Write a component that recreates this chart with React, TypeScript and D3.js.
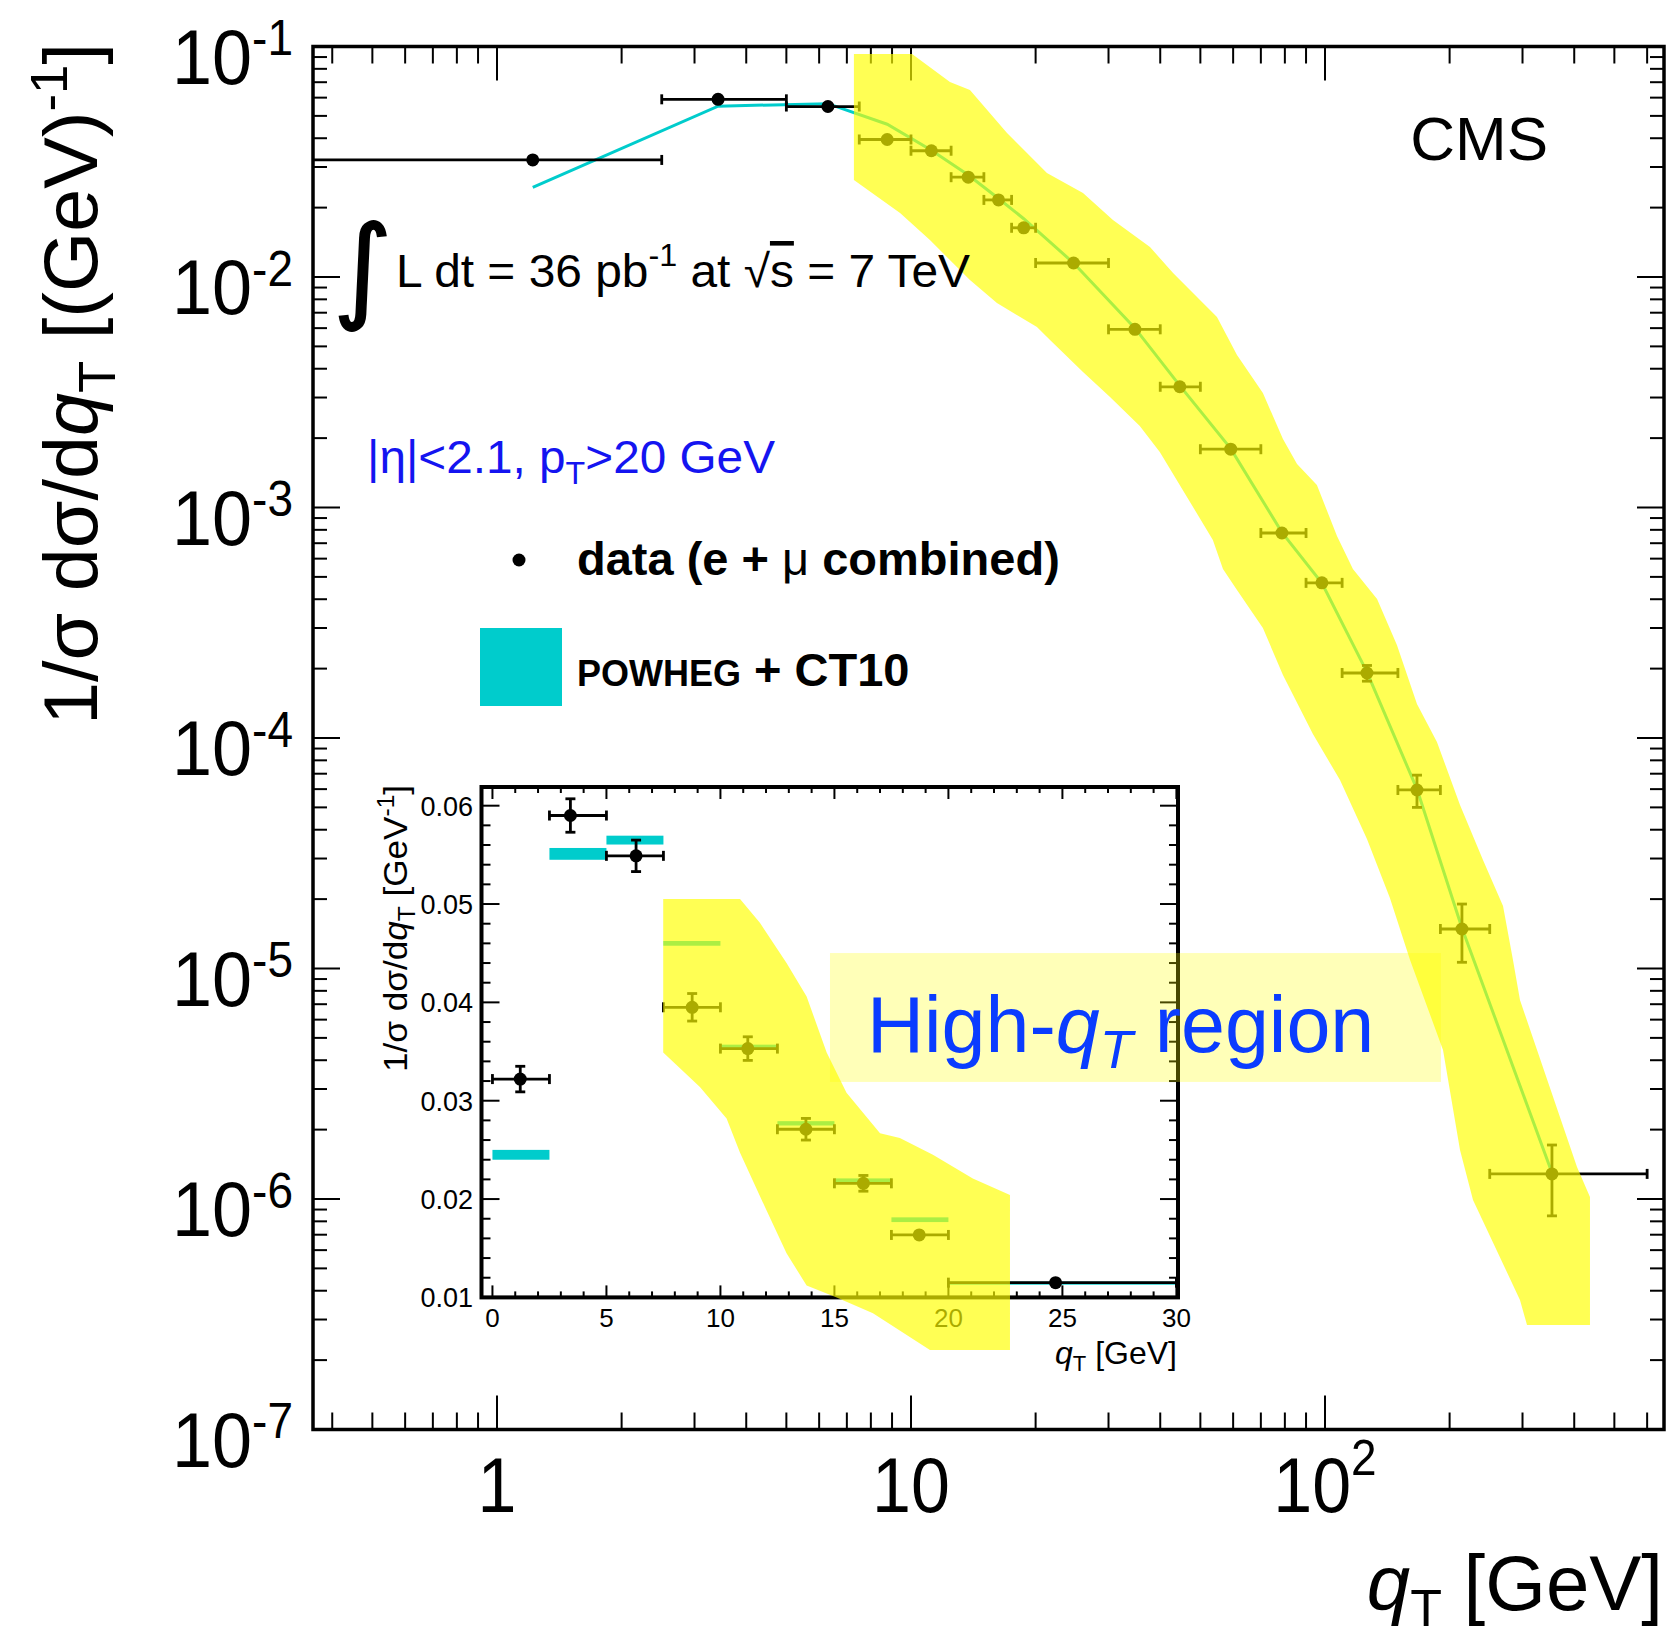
import React from 'react';
import * as d3 from 'd3';

// ---------------- data ----------------
const qT = [1.22, 3.42, 6.3, 8.76, 11.2, 13.75, 16.27, 18.72, 24.7, 34.75, 44.6, 59.2, 78.7, 98.3, 126.3, 166.8, 214.2, 353.4];
const binLo = [0, 2.5, 5, 7.5, 10, 12.5, 15, 17.5, 20, 30, 40, 50, 70, 90, 110, 150, 190, 250];
const binHi = [2.5, 5, 7.5, 10, 12.5, 15, 17.5, 20, 30, 40, 50, 70, 90, 110, 150, 190, 250, 600];
const sigma = [0.0322, 0.059, 0.0549, 0.0395, 0.0353, 0.0271, 0.0216, 0.01635, 0.0115, 0.00593, 0.00334, 0.00179, 7.75e-4, 4.71e-4, 1.914e-4, 5.95e-5, 1.484e-5, 1.285e-6];
const errHi = [0.0013, 0.0017, 0.0016, 0.0014, 0.0012, 0.0011, 0.0008, 0.0007, 0.0003, 0.00015, 0.00009, 0.00005, 0.00003, 0.000028, 0.000015, 0.0000095, 0.0000042, 0.00000043];
const errLo = [0.0013, 0.0017, 0.0016, 0.0014, 0.0012, 0.0011, 0.0008, 0.0007, 0.0003, 0.00015, 0.00009, 0.00005, 0.00003, 0.000028, 0.000015, 0.0000095, 0.0000042, 0.00000044];
const powheg = [0.0245, 0.0551, 0.0565, 0.046, 0.0355, 0.0277, 0.0219, 0.0179, 0.0115, 0.006, 0.00338, 0.0018, 7.8e-4, 4.7e-4, 1.93e-4, 6.0e-5, 1.5e-5, 1.3e-6];
const powhegErr = [0.0005, 0.0006, 0.00045, 0.00024, 0.0002, 0.00022, 0.0002, 0.00024, 0.0001];
const insetBins = 9;

const yDecades = [-1, -2, -3, -4, -5, -6, -7];
const xLabels = [1, 10, 100];
const insetXLabels = [0, 5, 10, 15, 20, 25, 30];
const insetYLabels = [0.01, 0.02, 0.03, 0.04, 0.05, 0.06];

// highlighted "high-qT" band (qT, value) in main-plot coordinates
const bandMain: [number, number][] = [
  [7.28, 0.0928], [10.06, 0.0928], [12.42, 0.0702], [13.88, 0.0648], [17.06, 0.0421], [21.3, 0.02827],
  [26.03, 0.02314], [30.75, 0.01767], [37.78, 0.01349], [42.96, 0.01041], [49.9, 0.00795], [54.84, 0.0067],
  [61.3, 0.004588], [70.8, 0.003139], [79.15, 0.001982], [85.6, 0.001544], [95.6, 0.001252], [106.9, 7.52e-4],
  [116.8, 5.41e-4], [133.6, 4.01e-4], [149.2, 2.532e-4], [166.8, 1.405e-4], [186.4, 9.61e-5], [211.9, 5.12e-5],
  [240.8, 2.955e-5], [269.2, 1.866e-5], [284.5, 1.088e-5], [295.8, 7.3e-6], [406.2, 1.377e-6], [436.6, 1.02e-6],
  [436.6, 2.84e-7], [307.6, 2.84e-7], [295.8, 3.65e-7], [227.8, 9.9e-7], [211.9, 1.63e-6], [192.8, 4.43e-6],
  [160.5, 1.088e-5], [143.5, 2.02e-5], [126.3, 3.65e-5], [108.7, 6.57e-5], [93.5, 1.041e-4], [79.15, 1.876e-4],
  [70.8, 3.0e-4], [61.3, 4.39e-4], [56.7, 5.41e-4], [53.6, 7.23e-4], [47.2, 1.057e-3], [39.9, 1.741e-3],
  [35.7, 2.257e-3], [30.25, 3.016e-3], [26.03, 3.87e-3], [21.67, 5.33e-3], [20.15, 6.07e-3], [16.13, 7.71e-3],
  [13.88, 9.7e-3], [11.11, 0.01447], [9.41, 0.01895], [7.28, 0.02635],
];
// same highlight in inset coordinates
const bandInset: [number, number][] = [
  [7.49, 0.0505], [10.86, 0.0505], [11.73, 0.0481], [12.9, 0.044], [13.78, 0.0406], [14.66, 0.0349],
  [15.53, 0.0308], [17.0, 0.0267], [17.87, 0.0262], [19.32, 0.0245], [21.07, 0.0221], [22.7, 0.0204],
  [22.7, 0.00466], [19.19, 0.00466], [16.69, 0.0084], [15.1, 0.01], [13.78, 0.0112], [12.9, 0.0145],
  [12.03, 0.0188], [10.86, 0.0247], [10.27, 0.0282], [9.1, 0.0314], [7.49, 0.0349],
];
const boxQ = [6.373, 190.6];
const boxV = [3.22e-6, 1.167e-5];
const boxTextAt = [7.83, 4.34e-6];

// ---------------- scales ----------------
const FONT = "'Liberation Sans', Arial, Helvetica, sans-serif";
const xMain = d3.scaleLog().domain([0.3594, 659]).range([313, 1664]);
const yMain = d3.scaleLog().domain([1e-7, 1e-1]).range([1429.5, 46.5]);
const xIn = d3.scaleLinear().domain([-0.48, 30.07]).range([481.5, 1178]);
const yIn = d3.scaleLinear().domain([0.01, 0.0619]).range([1297.4, 787]);

const CYAN = '#00cccc';
const BLACK = '#000';

function ErrPoint({ cx, cy, x0, x1, yTop, yBot, capL, capR, r }: any) {
  const sw = 2.8;
  const showV = yBot - yTop > 2 * r + 2;
  return (
    <g stroke={BLACK} strokeWidth={sw} fill={BLACK}>
      <line x1={x0} x2={x1} y1={cy} y2={cy} />
      {capL && <line x1={x0} x2={x0} y1={cy - 5} y2={cy + 5} />}
      {capR && <line x1={x1} x2={x1} y1={cy - 5} y2={cy + 5} />}
      {showV && <line x1={cx} x2={cx} y1={yTop} y2={yBot} />}
      {showV && <line x1={cx - 5} x2={cx + 5} y1={yTop} y2={yTop} />}
      {showV && <line x1={cx - 5} x2={cx + 5} y1={yBot} y2={yBot} />}
      <circle cx={cx} cy={cy} r={r} stroke="none" />
    </g>
  );
}

export default function App() {
  const isDecade = (t: number) => Math.abs(Math.log10(t) - Math.round(Math.log10(t))) < 1e-9;
  const xT = xMain.ticks();
  const yT = yMain.ticks();
  const [L, R] = xMain.range();
  const [B, T] = yMain.range();
  const [iL, iR] = xIn.range();
  const [iB, iT] = yIn.range();

  const mainLine = d3.line<number>().x((_, i) => xMain(qT[i])).y((d) => yMain(d))(powheg) || '';
  const bandPathMain = (d3.line<[number, number]>().x((d) => xMain(d[0])).y((d) => yMain(d[1]))(bandMain) || '') + 'Z';
  const bandPathInset = (d3.line<[number, number]>().x((d) => xIn(d[0])).y((d) => yIn(d[1]))(bandInset) || '') + 'Z';

  const inXTicks = d3.range(0, 31, 1);
  const inYTicks = d3.range(0, 27).map((k) => +(0.01 + k * 0.002).toFixed(4)).filter((v) => v < 0.0619);

  return (
    <svg width={1671} height={1639} style={{ position: 'absolute', left: 0, top: 0 }} fontFamily={FONT}>
      <rect x={0} y={0} width={1671} height={1639} fill="#fff" />

      {/* main ticks */}
      <g stroke={BLACK} strokeWidth={2}>
        {xT.map((t, i) => {
          const len = isDecade(t) ? 34 : 17;
          const px = xMain(t);
          return (
            <g key={'xt' + i}>
              <line x1={px} x2={px} y1={B} y2={B - len} />
              <line x1={px} x2={px} y1={T} y2={T + len} />
            </g>
          );
        })}
        {yT.map((t, i) => {
          const len = isDecade(t) ? 27 : 14;
          const py = yMain(t);
          return (
            <g key={'yt' + i}>
              <line x1={L} x2={L + len} y1={py} y2={py} />
              <line x1={R} x2={R - len} y1={py} y2={py} />
            </g>
          );
        })}
      </g>
      <rect x={L} y={T} width={R - L} height={B - T} fill="none" stroke={BLACK} strokeWidth={3.5} />

      {/* y tick labels */}
      {yDecades.map((p) => (
        <text key={'yl' + p} transform={`translate(293,${yMain(Math.pow(10, p)) + 37}) scale(1,1.08)`} textAnchor="end" fontSize={72}>
          10<tspan fontSize={46} dy={-26}>{'-' + -p}</tspan>
        </text>
      ))}
      {/* x tick labels */}
      {xLabels.map((v) => (
        <text key={'xl' + v} transform={`translate(${xMain(v)},1512) scale(1,1.1)`} textAnchor="middle" fontSize={70}>
          {v === 100 ? (
            <>
              10<tspan fontSize={46} dy={-34}>2</tspan>
            </>
          ) : (
            String(v)
          )}
        </text>
      ))}
      {/* axis titles */}
      <text x={1663} y={1610} textAnchor="end" fontSize={78}>
        <tspan fontStyle="italic">q</tspan>
        <tspan fontSize={52} dy={16}>T</tspan>
        <tspan dy={-16}> [GeV]</tspan>
      </text>
      <text transform="translate(97,43) rotate(-90)" textAnchor="end" fontSize={76} textLength={682} lengthAdjust="spacingAndGlyphs">
        1/σ dσ/d<tspan fontStyle="italic">q</tspan>
        <tspan fontSize={52} dy={18}>T</tspan>
        <tspan dy={-18}> [(GeV)</tspan>
        <tspan fontSize={52} dy={-30}>-1</tspan>
        <tspan dy={30}>]</tspan>
      </text>

      {/* POWHEG line + main data */}
      <path d={mainLine} fill="none" stroke={CYAN} strokeWidth={3} />
      {qT.map((q, i) => {
        const lo = Math.max(binLo[i], xMain.domain()[0]);
        return (
          <ErrPoint
            key={'mp' + i}
            cx={xMain(q)}
            cy={yMain(sigma[i])}
            x0={xMain(lo)}
            x1={xMain(binHi[i])}
            yTop={yMain(sigma[i] + errHi[i])}
            yBot={yMain(sigma[i] - errLo[i])}
            capL={binLo[i] > xMain.domain()[0]}
            capR={true}
            r={6.5}
          />
        );
      })}

      {/* ---------- inset ---------- */}
      <rect x={iL} y={iT} width={iR - iL} height={iB - iT} fill="#fff" />
      <g stroke={BLACK} strokeWidth={2}>
        {inXTicks.map((t) => {
          const len = t % 5 === 0 ? 12 : 6;
          const px = xIn(t);
          return (
            <g key={'ixt' + t}>
              <line x1={px} x2={px} y1={iB} y2={iB - len} />
              <line x1={px} x2={px} y1={iT} y2={iT + len} />
            </g>
          );
        })}
        {inYTicks.map((t) => {
          const major = Math.abs(t * 100 - Math.round(t * 100)) < 1e-6;
          const len = major ? 18 : 9;
          const py = yIn(t);
          return (
            <g key={'iyt' + t}>
              <line x1={iL} x2={iL + len} y1={py} y2={py} />
              <line x1={iR} x2={iR - len} y1={py} y2={py} />
            </g>
          );
        })}
      </g>
      <rect x={iL} y={iT} width={iR - iL} height={iB - iT} fill="none" stroke={BLACK} strokeWidth={4} />
      {insetYLabels.map((v) => (
        <text key={'iyl' + v} x={473} y={yIn(v) + 10} textAnchor="end" fontSize={27}>
          {v.toFixed(2)}
        </text>
      ))}
      {insetXLabels.map((v) => (
        <text key={'ixl' + v} x={xIn(v)} y={1327} textAnchor="middle" fontSize={26}>
          {v}
        </text>
      ))}
      <text x={1177} y={1364} textAnchor="end" fontSize={32}>
        <tspan fontStyle="italic">q</tspan>
        <tspan fontSize={22} dy={7}>T</tspan>
        <tspan dy={-7}> [GeV]</tspan>
      </text>
      <text transform="translate(407,785) rotate(-90)" textAnchor="end" fontSize={33} textLength={287} lengthAdjust="spacingAndGlyphs">
        1/σ dσ/d<tspan fontStyle="italic">q</tspan>
        <tspan fontSize={23} dy={8}>T</tspan>
        <tspan dy={-8}> [GeV</tspan>
        <tspan fontSize={23} dy={-13}>-1</tspan>
        <tspan dy={13}>]</tspan>
      </text>
      {powhegErr.map((e, i) => (
        <rect
          key={'pb' + i}
          x={xIn(binLo[i])}
          width={xIn(binHi[i]) - xIn(binLo[i])}
          y={yIn(powheg[i] + e)}
          height={Math.max(3, yIn(powheg[i] - e) - yIn(powheg[i] + e))}
          fill={CYAN}
        />
      ))}
      {qT.slice(0, insetBins).map((q, i) => (
        <ErrPoint
          key={'ip' + i}
          cx={xIn(q)}
          cy={yIn(sigma[i])}
          x0={xIn(binLo[i])}
          x1={xIn(binHi[i])}
          yTop={yIn(sigma[i] + errHi[i])}
          yBot={yIn(sigma[i] - errLo[i])}
          capL={true}
          capR={true}
          r={6.5}
        />
      ))}

      {/* highlight bands */}
      <path d={bandPathMain} fill="#ffff00" fillOpacity={0.67} />
      <path d={bandPathInset} fill="#ffff00" fillOpacity={0.67} />
      <rect
        x={xMain(boxQ[0])}
        y={yMain(boxV[1])}
        width={xMain(boxQ[1]) - xMain(boxQ[0])}
        height={yMain(boxV[0]) - yMain(boxV[1])}
        fill="#ffff00"
        fillOpacity={0.28}
      />
      <text x={xMain(boxTextAt[0])} y={yMain(boxTextAt[1])} fontSize={79} fill="#0a3cff">
        High-<tspan fontStyle="italic">q</tspan>
        <tspan fontStyle="italic" fontSize={54} dy={16}>T</tspan>
        <tspan dy={-16}> region</tspan>
      </text>

      {/* annotations */}
      <text x={1548} y={160} textAnchor="end" fontSize={62}>CMS</text>
      <text x={333} y={307} fontSize={114} fontFamily="'DejaVu Sans'" stroke={BLACK} strokeWidth={1.6}>∫</text>
      <text x={396} y={287} fontSize={46} textLength={574} lengthAdjust="spacingAndGlyphs">
        L dt = 36 pb<tspan fontSize={31} dy={-21}>-1</tspan>
        <tspan dy={21}> at </tspan>
        <tspan>√</tspan>
        <tspan style={{ textDecoration: 'overline' }}>s</tspan>
        <tspan> = 7 TeV</tspan>
      </text>
      <text x={367} y={473} fontSize={46} fill="#1414f0" textLength={408} lengthAdjust="spacingAndGlyphs">
        |η|&lt;2.1, p<tspan fontSize={31} dy={11}>T</tspan>
        <tspan dy={-11}>&gt;20 GeV</tspan>
      </text>
      <circle cx={519} cy={560} r={6.5} fill={BLACK} />
      <text x={577} y={575} fontSize={47} fontWeight="bold">
        data (e + <tspan fontWeight="normal">μ</tspan> combined)
      </text>
      <rect x={480} y={628} width={82} height={78} fill={CYAN} />
      <text x={577} y={686} fontWeight="bold">
        <tspan fontSize={36}>POWHEG</tspan>
        <tspan fontSize={47}> + CT10</tspan>
      </text>
    </svg>
  );
}
